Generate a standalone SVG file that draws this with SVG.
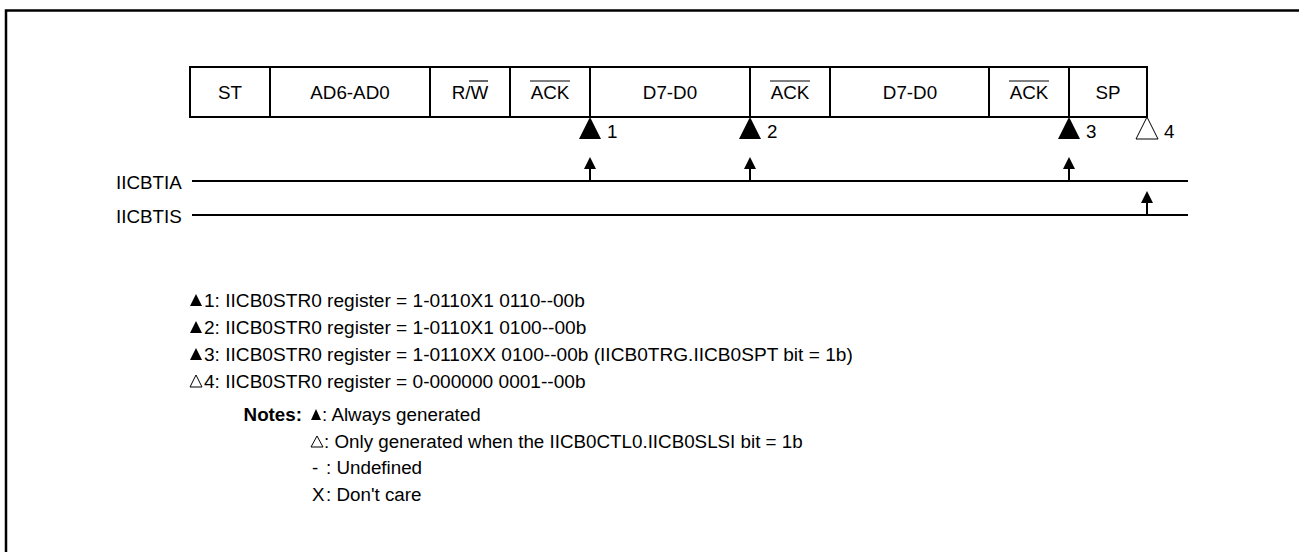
<svg xmlns="http://www.w3.org/2000/svg" width="1299" height="552" viewBox="0 0 1299 552">
<style>
text{font-family:"Liberation Sans",Arial,sans-serif;font-size:18.8px;fill:#000}
.lg{font-size:19.1px}
.c{text-anchor:middle}
.e{text-anchor:end}
.box{fill:#fff;stroke:#000;stroke-width:2}
.ln{stroke:#000;stroke-width:2;fill:none}
.ov{stroke:#000;stroke-width:1.2}
.tf{fill:#000}
.to{fill:#fff;stroke:#000;stroke-width:1}
.b{font-weight:bold}
</style>
<rect x="6" y="10.5" width="1400" height="600" fill="none" stroke="#000" stroke-width="2.5"/>

<g id="frame">
<rect class="box" x="190" y="67" width="80" height="50"/>
<text class="c" x="230" y="99">ST</text>
<rect class="box" x="270" y="67" width="160" height="50"/>
<text class="c" x="350" y="99">AD6-AD0</text>
<rect class="box" x="430" y="67" width="80" height="50"/>
<text class="c" x="470" y="99">R/W</text>
<line class="ov" x1="469" y1="81" x2="488" y2="81"/>
<rect class="box" x="510" y="67" width="80" height="50"/>
<text class="c" x="550" y="99">ACK</text>
<line class="ov" x1="530" y1="81" x2="570" y2="81"/>
<rect class="box" x="590" y="67" width="160" height="50"/>
<text class="c" x="670" y="99">D7-D0</text>
<rect class="box" x="750" y="67" width="80" height="50"/>
<text class="c" x="790" y="99">ACK</text>
<line class="ov" x1="770" y1="81" x2="810" y2="81"/>
<rect class="box" x="830" y="67" width="159" height="50"/>
<text class="c" x="910" y="99">D7-D0</text>
<rect class="box" x="989" y="67" width="80" height="50"/>
<text class="c" x="1029" y="99">ACK</text>
<line class="ov" x1="1009" y1="81" x2="1049" y2="81"/>
<rect class="box" x="1069" y="67" width="78" height="50"/>
<text class="c" x="1108" y="99">SP</text>
</g>

<g id="markers">
<path class="tf" d="M590,117 L601,139 L579,139 Z"/>
<text x="607" y="138">1</text>
<path class="tf" d="M750,117 L761,139 L739,139 Z"/>
<text x="767" y="138">2</text>
<path class="tf" d="M1069,117 L1080,139 L1058,139 Z"/>
<text x="1086" y="138">3</text>
<path class="to" d="M1147,117 L1158,139 L1136,139 Z"/>
<text x="1164" y="138">4</text>
</g>

<g id="signals">
<text x="116" y="189">IICBTIA</text>
<line class="ln" x1="192" y1="181" x2="1188" y2="181"/>
<text x="116" y="223">IICBTIS</text>
<line class="ln" x1="192" y1="215" x2="1188" y2="215"/>
</g>

<g id="connectors">
<line class="ln" x1="590" y1="181" x2="590" y2="167"/>
<path class="tf" d="M590,157 L596,169 L584,169 Z"/>
<line class="ln" x1="750" y1="181" x2="750" y2="167"/>
<path class="tf" d="M750,157 L756,169 L744,169 Z"/>
<line class="ln" x1="1069" y1="181" x2="1069" y2="167"/>
<path class="tf" d="M1069,157 L1075,169 L1063,169 Z"/>
<line class="ln" x1="1147" y1="215" x2="1147" y2="201"/>
<path class="tf" d="M1147,191 L1153,203 L1141,203 Z"/>
</g>

<g id="legend">
<path class="tf" d="M196,294 L202,306 L190,306 Z"/>
<text class="lg" x="204" y="307">1: IICB0STR0 register = 1-0110X1 0110--00b</text>
<path class="tf" d="M196,321 L202,333 L190,333 Z"/>
<text class="lg" x="204" y="334">2: IICB0STR0 register = 1-0110X1 0100--00b</text>
<path class="tf" d="M196,348 L202,360 L190,360 Z"/>
<text class="lg" x="204" y="361">3: IICB0STR0 register = 1-0110XX 0100--00b (IICB0TRG.IICB0SPT bit = 1b)</text>
<path class="to" d="M196,375 L202,387 L190,387 Z"/>
<text class="lg" x="204" y="388">4: IICB0STR0 register = 0-000000 0001--00b</text>
</g>

<g id="notes">
<text class="b e" x="302" y="421">Notes:</text>
<path class="tf" d="M316,409 L321,420 L311,420 Z"/>
<text x="322" y="421">: Always generated</text>
<path class="to" d="M317,436 L323,447 L311,447 Z"/>
<text x="324" y="448">: Only generated when the IICB0CTL0.IICB0SLSI bit = 1b</text>
<text x="312" y="474">- <tspan x="326">: Undefined</tspan></text>
<text x="312" y="501">X<tspan x="326">: Don't care</tspan></text>
</g>
</svg>
